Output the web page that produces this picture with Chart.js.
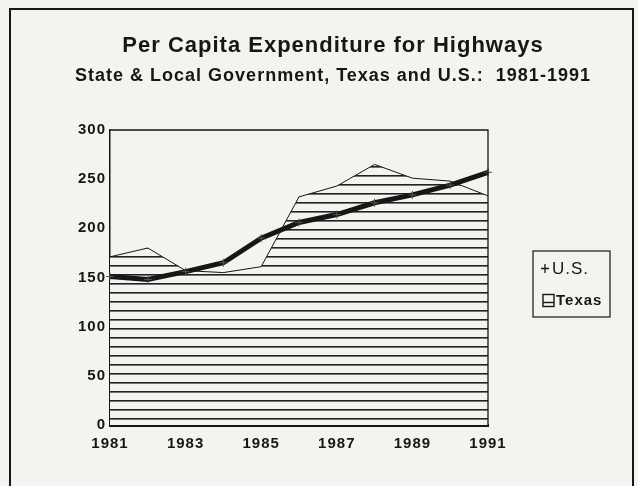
<!DOCTYPE html>
<html>
<head>
<meta charset="utf-8">
<script src="https://cdn.jsdelivr.net/npm/chart.js@4.4.0/dist/chart.umd.min.js"></script>
<style>
  html, body { margin: 0; padding: 0; background: #f3f3ef; }
  canvas { display: block; }
</style>
</head>
<body>
<canvas id="hwyChart" width="638" height="486"></canvas>
<script>
// per capita highway spending, dollars
const years = ['1981', '1982', '1983', '1984', '1985', '1986', '1987', '1988', '1989', '1990', '1991'];
const usSpending = [151, 148, 156, 165, 190, 206, 214, 226, 234, 244, 257];
const texasSpending = [171, 180, 157, 155, 161, 232, 243, 265, 251, 248, 233];
const yTickValues = [0, 50, 100, 150, 200, 250, 300];

const fontFamily = "'Liberation Sans', Arial, Helvetica, sans-serif";
const ink = '#161616';
const paper = '#f3f3ef';

const canvas = document.getElementById('hwyChart');
const ctx = canvas.getContext('2d');

// horizontal hatch like the old printout
function makeStripes() {
    const tile = document.createElement('canvas');
    tile.width = 9;
    tile.height = 9;
    const g = tile.getContext('2d');
    g.fillStyle = paper;
    g.fillRect(0, 0, 9, 9);
    g.fillStyle = '#222';
    g.fillRect(0, 4, 9, 1.6);
    return ctx.createPattern(tile, 'repeat');
}
const stripes = makeStripes();

const framePlugin = {
    id: 'frames',
    beforeDraw(chart) {
        const c = chart.ctx;
        // the printout has slightly loose type
        c.letterSpacing = '1px';
        c.save();
        c.strokeStyle = ink;
        c.lineWidth = 2;
        c.strokeRect(10, 9, 623, 490);
        c.restore();
    },
    afterDatasetsDraw(chart) {
        const a = chart.chartArea;
        const c = chart.ctx;
        c.save();
        c.strokeStyle = ink;
        c.lineWidth = 1.3;
        c.beginPath();
        c.moveTo(a.left, a.top);
        c.lineTo(a.right, a.top);
        c.lineTo(a.right, a.bottom);
        c.stroke();
        c.restore();
    },
    afterDraw(chart) {
        // legend box on the right
        const c = chart.ctx;
        const ds = chart.data.datasets;
        c.save();
        c.strokeStyle = ink;
        c.lineWidth = 1.2;
        c.strokeRect(533, 251, 77, 66);

        // U.S. cross
        c.lineWidth = 1.3;
        c.beginPath();
        c.moveTo(541, 268.5); c.lineTo(549, 268.5);
        c.moveTo(545, 264); c.lineTo(545, 273);
        c.stroke();

        // Texas box
        c.fillStyle = paper;
        c.fillRect(543, 294.5, 11, 12);
        c.lineWidth = 1.4;
        c.strokeRect(543, 294.5, 11, 12);
        c.beginPath();
        c.moveTo(543, 302.5); c.lineTo(554, 302.5);
        c.stroke();

        c.fillStyle = ink;
        c.textBaseline = 'middle';
        c.textAlign = 'left';
        c.font = '17px ' + fontFamily;
        c.fillText(ds[0].label, 552, 269);
        c.font = 'bold 15px ' + fontFamily;
        c.fillText(ds[1].label, 556, 301);
        c.restore();
    }
};

new Chart(ctx, {
    type: 'line',
    data: {
        labels: years,
        datasets: [
            {
                label: 'U.S.',
                data: usSpending,
                borderColor: ink,
                borderWidth: 5,
                tension: 0,
                fill: false,
                pointStyle: 'cross',
                pointRadius: 4,
                pointBorderWidth: 1,
                pointBorderColor: '#555',
                pointHoverRadius: 4
            },
            {
                label: 'Texas',
                data: texasSpending,
                borderColor: ink,
                borderWidth: 1,
                backgroundColor: stripes,
                tension: 0,
                fill: 'origin',
                pointRadius: 0,
                pointHoverRadius: 0
            }
        ]
    },
    options: {
        responsive: false,
        animation: false,
        events: [],
        layout: {
            padding: { top: 24, left: 30, right: 2, bottom: 20 }
        },
        plugins: {
            legend: { display: false },
            tooltip: { enabled: false },
            title: {
                display: true,
                text: 'Per Capita Expenditure for Highways',
                color: ink,
                font: { family: fontFamily, size: 22, weight: 'bold' },
                padding: { top: 9, bottom: 0 }
            },
            subtitle: {
                display: true,
                text: 'State & Local Government, Texas and U.S.:  1981-1991',
                color: ink,
                font: { family: fontFamily, size: 18, weight: 'bold' },
                padding: { top: 6, bottom: 43 }
            }
        },
        scales: {
            x: {
                offset: false,
                grid: { display: false, drawTicks: false },
                border: { display: true, color: ink, width: 3 },
                ticks: {
                    autoSkip: false,
                    maxRotation: 0,
                    padding: 10,
                    color: ink,
                    font: { family: fontFamily, size: 15, weight: 'bold' },
                    callback: function(value, index) {
                        return index % 2 === 0 ? this.getLabelForValue(value) : '';
                    }
                },
                afterFit: function(scale) { scale.height = 41; }
            },
            y: {
                min: 0,
                max: 300,
                afterBuildTicks: function(scale) {
                    scale.ticks = yTickValues.map(v => ({ value: v }));
                },
                grid: { display: false, drawTicks: false },
                border: { display: true, color: ink, width: 1.5 },
                ticks: {
                    padding: 4,
                    color: ink,
                    font: { family: fontFamily, size: 15, weight: 'bold' }
                },
                afterFit: function(scale) { scale.width = 80; }
            },
            spacer: {
                type: 'linear',
                position: 'right',
                display: true,
                grid: { display: false, drawTicks: false },
                border: { display: false },
                ticks: { display: false },
                afterFit: function(scale) { scale.width = 148; }
            }
        }
    },
    plugins: [framePlugin]
});
</script>
</body>
</html>
